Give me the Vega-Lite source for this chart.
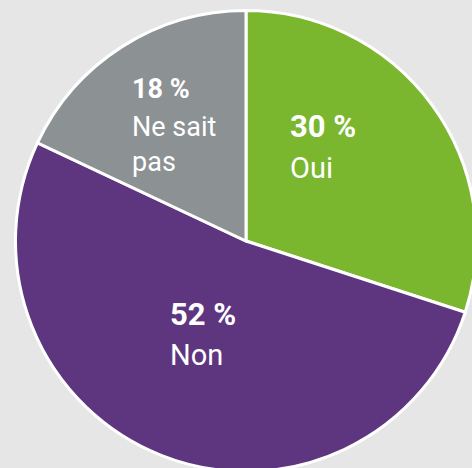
{
  "$schema": "https://vega.github.io/schema/vega-lite/v6.json",
  "autosize": {"type": "none"},
  "width": 452,
  "height": 454,
  "padding": {"left": 20, "top": 14, "right": 0, "bottom": 0},
  "background": "#e6e6e6",
  "config": {"view": {"stroke": null}, "text": {"font": "Roboto"}},
  "data": {
    "values": [
      {"name": "Oui", "pct": 30, "ord": 1, "pctText": "30 %", "line": "Oui"},
      {"name": "Non", "pct": 52, "ord": 2, "pctText": "52 %", "line": "Non"},
      {"name": "Ne sait pas", "pct": 18, "ord": 3, "pctText": "18 %", "line": "Ne sait\npas"}
    ]
  },
  "encoding": {
    "theta": {"field": "pct", "type": "quantitative", "stack": true},
    "order": {"field": "ord", "type": "quantitative"}
  },
  "layer": [
    {
      "mark": {"type": "arc", "outerRadius": 230.5, "stroke": "white", "strokeWidth": 3},
      "encoding": {
        "color": {
          "field": "name",
          "type": "nominal",
          "scale": {"domain": ["Oui", "Non", "Ne sait pas"], "range": ["#7ab72e", "#5e3680", "#8c9194"]},
          "legend": null
        }
      }
    },
    {
      "mark": {"type": "text", "radius": 110, "align": "left", "baseline": "alphabetic", "fontWeight": "bold", "fontSize": 31, "color": "white", "dx": -45, "dy": -39.6},
      "encoding": {"text": {"condition": {"test": "datum.name === 'Oui'", "field": "pctText"}, "value": ""}}
    },
    {
      "mark": {"type": "text", "radius": 110, "align": "left", "baseline": "alphabetic", "fontSize": 29, "color": "white", "dx": -45, "dy": 1.4},
      "encoding": {"text": {"condition": {"test": "datum.name === 'Oui'", "field": "line"}, "value": ""}}
    },
    {
      "mark": {"type": "text", "radius": 110, "align": "left", "baseline": "alphabetic", "fontWeight": "bold", "fontSize": 31, "color": "white", "dx": -35.5, "dy": -18.3},
      "encoding": {"text": {"condition": {"test": "datum.name === 'Non'", "field": "pctText"}, "value": ""}}
    },
    {
      "mark": {"type": "text", "radius": 110, "align": "left", "baseline": "alphabetic", "fontSize": 29, "color": "white", "dx": -35.5, "dy": 21.7},
      "encoding": {"text": {"condition": {"test": "datum.name === 'Non'", "field": "line"}, "value": ""}}
    },
    {
      "mark": {"type": "text", "radius": 110, "align": "left", "baseline": "alphabetic", "fontWeight": "bold", "fontSize": 27, "color": "white", "dx": -55, "dy": -49.8},
      "encoding": {"text": {"condition": {"test": "datum.name === 'Ne sait pas'", "field": "pctText"}, "value": ""}}
    },
    {
      "mark": {"type": "text", "radius": 110, "align": "left", "baseline": "alphabetic", "fontSize": 27, "lineBreak": "\n", "lineHeight": 35, "color": "white", "dx": -55, "dy": -12.4},
      "encoding": {"text": {"condition": {"test": "datum.name === 'Ne sait pas'", "field": "line"}, "value": ""}}
    }
  ]
}
